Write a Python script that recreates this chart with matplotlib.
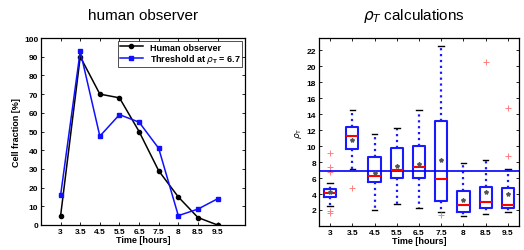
import matplotlib.pyplot as plt

# time points (categorical positions on the x axis)
times = ['3', '3.5', '4.5', '5.5', '6.5', '7.5', '8', '8.5', '9.5']

# left panel: cell fraction [%]
human = [5, 90, 70, 68, 50, 29, 15, 4, 0]
thresh = [16, 93, 47.5, 59, 55, 41, 5, 8.5, 14]

# right panel: rho_T box statistics
q1 = [3.6, 9.6, 5.5, 6.0, 6.0, 3.1, 1.8, 2.3, 2.2]
med = [4.15, 11.3, 6.25, 7.0, 7.4, 5.9, 2.6, 3.0, 2.6]
q3 = [4.6, 12.4, 8.6, 9.8, 10.0, 13.1, 4.4, 4.9, 4.7]
wlo = [2.5, 7.1, 2.0, 2.8, 2.3, 1.7, 1.2, 1.5, 1.8]
whi = [5.4, 14.5, 11.5, 12.2, 14.5, 22.5, 7.9, 8.2, 7.1]
means = [4.2, 10.8, 6.6, 7.5, 7.8, 8.2, 3.3, 4.2, 4.0]
fliers = [[9.1, 7.4, 6.7, 1.9, 1.6], [4.7], [], [], [], [1.4], [], [20.5], [14.8, 8.7]]
rho_thr = 6.9

plt.rcParams['font.family'] = ['Liberation Sans', 'DejaVu Sans']
plt.rcParams['mathtext.fontset'] = 'dejavusans'

fig = plt.figure(figsize=(5.24, 2.51), dpi=100)
ax1 = fig.add_axes([41/524, 25/251, 204/524, 187/251])
ax2 = fig.add_axes([319/524, 24/251, 200/524, 188/251])

x = list(range(1, len(times) + 1))

# --- left: human observer
ax1.plot(x, human, color='black', marker='o', ms=3, lw=1.1, label='Human observer')
ax1.plot(x, thresh, color='#1010ff', marker='s', ms=3, lw=1.1,
         label=r'Threshold at $\rho_\mathregular{T}$ = 6.7')
ax1.set_xlim(0, 10.4)
ax1.set_ylim(0, 100)
ax1.set_yticks(range(0, 101, 10))
ax1.set_xticks(x)
ax1.set_xticklabels(times)
ax1.set_ylabel('Cell fraction [%]', fontsize=6.5, fontweight='bold', labelpad=2)
ax1.set_xlabel('Time [hours]', fontsize=6.5, fontweight='bold', labelpad=0)
leg = ax1.legend(loc='upper right', prop={'weight': 'bold', 'size': 6.5},
                 fancybox=False, edgecolor='black', borderpad=0.2, labelspacing=0.1,
                 handlelength=2.5, borderaxespad=0.3)
leg.get_frame().set_linewidth(0.6)
fig.text(143/524, 1 - 16/251, 'human observer', ha='center', va='center', fontsize=11)

# --- right: rho_T boxplots
stats = []
for i in range(len(times)):
    stats.append({'q1': q1[i], 'med': med[i], 'q3': q3[i], 'whislo': wlo[i],
                  'whishi': whi[i], 'fliers': fliers[i], 'mean': means[i]})
ax2.bxp(stats, positions=x, widths=0.55, showmeans=True, patch_artist=False,
        boxprops=dict(color='#1a1aff', lw=1.5),
        whiskerprops=dict(color='#1a1aff', lw=1.6, linestyle=':'),
        capprops=dict(color='black', lw=1.0),
        medianprops=dict(color='red', lw=1.5),
        meanprops=dict(marker='*', markerfacecolor='#555555', markeredgecolor='#555555', markersize=3),
        flierprops=dict(marker='+', markeredgecolor='#ff8080', markersize=4, markeredgewidth=0.7),
        capwidths=0.25)
ax2.axhline(rho_thr, color='#0000ff', lw=1.2)
ax2.set_xlim(0.5, 9.5)
ax2.set_ylim(0, 23.5)
ax2.set_yticks(range(2, 23, 2))
ax2.set_xticks(x)
ax2.set_xticklabels(times)
ax2.set_ylabel(r'$\rho_\mathregular{T}$', fontsize=6.5, labelpad=2)
ax2.set_xlabel('Time [hours]', fontsize=6.5, fontweight='bold', labelpad=0)
fig.text(414/524, 1 - 16/251, r'$\rho_T$ calculations', ha='center', va='center', fontsize=11)

for ax in (ax1, ax2):
    ax.tick_params(direction='in', top=True, right=True, length=2, width=0.6, labelsize=6, pad=2)
    for lab in ax.get_xticklabels() + ax.get_yticklabels():
        lab.set_fontweight('bold')
    for sp in ax.spines.values():
        sp.set_linewidth(0.9)

fig.savefig('out.png', dpi=100)
